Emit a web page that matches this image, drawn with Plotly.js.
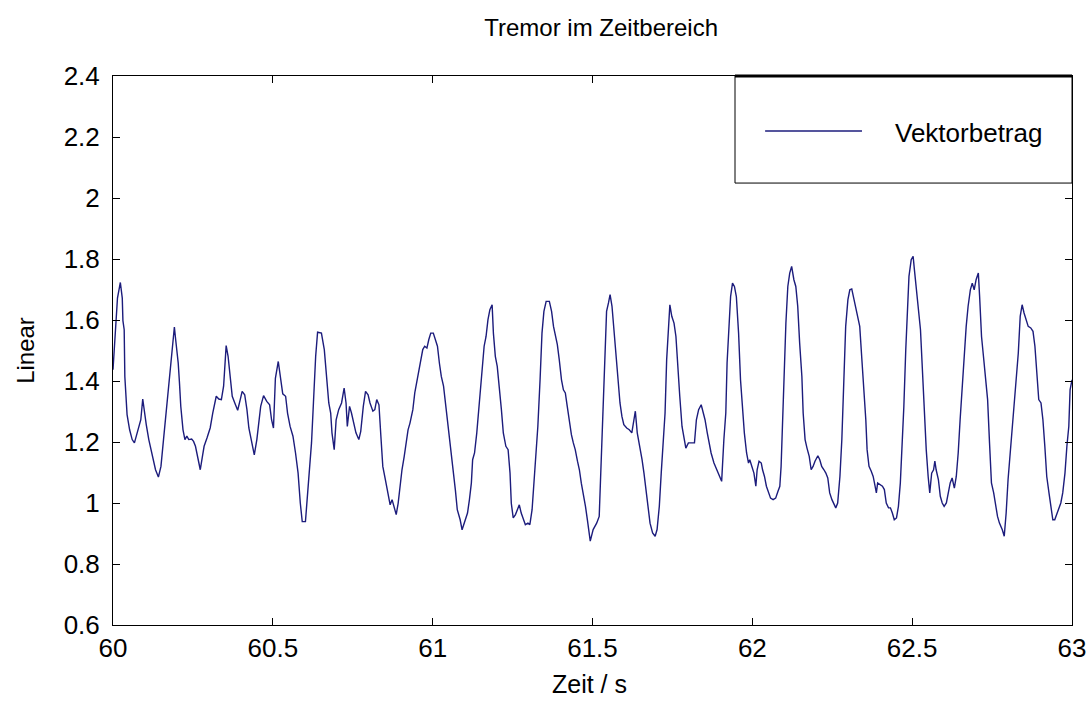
<!DOCTYPE html>
<html>
<head>
<meta charset="utf-8">
<script src="https://cdn.plot.ly/plotly-3.0.1.min.js"></script>
<style>
  html, body { margin: 0; padding: 0; background: #ffffff; overflow: hidden; }
  #chart { width: 1090px; height: 702px; }
</style>
</head>
<body>
<div id="chart"></div>
<script>
// Zeitachse in Sekunden
const zeit = [
  60.000, 60.006, 60.010, 60.014, 60.023, 60.029, 60.031, 60.035, 60.037, 60.044,
  60.052, 60.060, 60.067, 60.073, 60.081, 60.087, 60.093, 60.098, 60.104, 60.112,
  60.119, 60.125, 60.133, 60.142, 60.150, 60.158, 60.167, 60.175, 60.181, 60.187,
  60.192, 60.196, 60.204, 60.208, 60.212, 60.219, 60.225, 60.231, 60.237, 60.246,
  60.252, 60.258, 60.264, 60.273, 60.279, 60.285, 60.294, 60.304, 60.312, 60.323,
  60.331, 60.339, 60.346, 60.350, 60.354, 60.360, 60.367, 60.373, 60.381, 60.390,
  60.398, 60.404, 60.412, 60.419, 60.425, 60.433, 60.442, 60.450, 60.456, 60.462,
  60.471, 60.481, 60.490, 60.496,
  60.502, 60.508, 60.517, 60.523, 60.531, 60.540, 60.546, 60.554, 60.563, 60.571,
  60.579, 60.586, 60.592, 60.602, 60.608, 60.615, 60.621, 60.627, 60.634, 60.640,
  60.652, 60.661, 60.667, 60.675, 60.681, 60.685, 60.692, 60.698, 60.706, 60.715,
  60.723, 60.729, 60.733, 60.740, 60.746, 60.752, 60.760, 60.769, 60.775, 60.783,
  60.790, 60.798, 60.804, 60.813, 60.819, 60.825, 60.832, 60.838, 60.844, 60.852,
  60.861, 60.867, 60.873, 60.879, 60.886, 60.892, 60.898, 60.904, 60.911, 60.917,
  60.923, 60.929, 60.938, 60.944, 60.950, 60.957, 60.963, 60.969, 60.975, 60.982,
  60.988, 60.994,
  61.002, 61.009, 61.015, 61.021, 61.027, 61.034, 61.040, 61.046, 61.052, 61.059,
  61.065, 61.071, 61.077, 61.086, 61.092, 61.100, 61.109, 61.115, 61.121, 61.125,
  61.131, 61.138, 61.144, 61.148, 61.154, 61.161, 61.167, 61.173, 61.179, 61.186,
  61.190, 61.196, 61.202, 61.209, 61.215, 61.221, 61.229, 61.236, 61.242, 61.246,
  61.252, 61.259, 61.265, 61.271, 61.277, 61.284, 61.290, 61.298, 61.304, 61.311,
  61.317, 61.323, 61.329, 61.336, 61.342, 61.348, 61.355, 61.365, 61.372, 61.378,
  61.384, 61.390, 61.396, 61.403, 61.409, 61.415, 61.421, 61.428, 61.434, 61.440,
  61.446, 61.453, 61.459, 61.465, 61.471, 61.478, 61.484, 61.490, 61.493,
  61.502, 61.513, 61.521, 61.525, 61.532, 61.538, 61.544, 61.550, 61.555, 61.561,
  61.567, 61.573, 61.580, 61.586, 61.592, 61.598, 61.607, 61.615, 61.623, 61.630,
  61.634, 61.640, 61.648, 61.655, 61.661, 61.667, 61.673, 61.680, 61.688, 61.696,
  61.702, 61.709, 61.715, 61.721, 61.727, 61.732, 61.738, 61.742, 61.748, 61.755,
  61.761, 61.767, 61.773, 61.780, 61.786, 61.792, 61.800, 61.811, 61.819, 61.825,
  61.832, 61.840, 61.846, 61.852, 61.859, 61.865, 61.871, 61.880, 61.888, 61.898,
  61.904, 61.911, 61.917, 61.921, 61.927, 61.932, 61.938, 61.944, 61.950, 61.957,
  61.963, 61.969, 61.975, 61.982, 61.988,
  61.992, 61.998, 62.005, 62.011, 62.015, 62.021, 62.028, 62.032, 62.038, 62.044,
  62.050, 62.057, 62.065, 62.073, 62.080, 62.086, 62.090, 62.094, 62.100, 62.105,
  62.111, 62.117, 62.123, 62.130, 62.136, 62.142, 62.148, 62.155, 62.159, 62.165,
  62.171, 62.178, 62.184, 62.190, 62.196, 62.205, 62.211, 62.217, 62.224, 62.230,
  62.236, 62.242, 62.249, 62.255, 62.261, 62.267, 62.274, 62.280, 62.286, 62.292,
  62.299, 62.305, 62.311, 62.317, 62.324, 62.330, 62.336, 62.342, 62.349, 62.355,
  62.359, 62.365, 62.372, 62.378, 62.384, 62.388, 62.392, 62.399, 62.407, 62.413,
  62.419, 62.426, 62.432, 62.438, 62.444, 62.451, 62.457, 62.463, 62.469, 62.474,
  62.480, 62.486, 62.490, 62.497,
  62.503, 62.507, 62.513, 62.519, 62.526, 62.532, 62.538, 62.544, 62.550, 62.555,
  62.561, 62.567, 62.571, 62.575, 62.582, 62.588, 62.594, 62.600, 62.607, 62.613,
  62.619, 62.625, 62.632, 62.638, 62.644, 62.650, 62.657, 62.663, 62.669, 62.675,
  62.682, 62.688, 62.694, 62.700, 62.707, 62.711, 62.717, 62.723, 62.730, 62.736,
  62.742, 62.748, 62.755, 62.761, 62.767, 62.773, 62.782, 62.788, 62.794, 62.800,
  62.807, 62.813, 62.819, 62.825, 62.832, 62.838, 62.844, 62.850, 62.857, 62.863,
  62.871, 62.878, 62.884, 62.890, 62.896, 62.903, 62.909, 62.915, 62.921, 62.928,
  62.934, 62.940, 62.946, 62.953, 62.959, 62.965, 62.971, 62.978, 62.984, 62.990,
  62.994, 63.000
];

// Betrag des Beschleunigungsvektors
const vektorbetrag = [
  1.437, 1.525, 1.596, 1.672, 1.723, 1.672, 1.598, 1.568, 1.415, 1.290,
  1.240, 1.208, 1.197, 1.219, 1.246, 1.273, 1.341, 1.295, 1.257, 1.208,
  1.175, 1.142, 1.109, 1.085, 1.120, 1.208, 1.306, 1.404, 1.481, 1.546,
  1.577, 1.536, 1.459, 1.393, 1.317, 1.240, 1.208, 1.219, 1.208, 1.210,
  1.202, 1.186, 1.153, 1.109, 1.148, 1.186, 1.213, 1.246, 1.295, 1.350,
  1.341, 1.339, 1.383, 1.470, 1.516, 1.481, 1.415, 1.350, 1.328, 1.304,
  1.339, 1.366, 1.355, 1.306, 1.246, 1.208, 1.158, 1.208, 1.262, 1.317,
  1.352, 1.333, 1.322, 1.273,
  1.246, 1.409, 1.464, 1.415, 1.358, 1.350, 1.295, 1.251, 1.219, 1.164,
  1.098, 0.999, 0.939, 0.939, 1.021, 1.098, 1.197, 1.328, 1.481, 1.560,
  1.557, 1.503, 1.426, 1.328, 1.295, 1.230, 1.175, 1.273, 1.306, 1.328,
  1.377, 1.328, 1.251, 1.317, 1.295, 1.262, 1.230, 1.208, 1.235, 1.317,
  1.366, 1.355, 1.328, 1.301, 1.306, 1.339, 1.322, 1.219, 1.120, 1.077,
  1.022, 0.994, 1.011, 0.989, 0.962, 0.999, 1.055, 1.109, 1.153, 1.197,
  1.240, 1.262, 1.306, 1.361, 1.393, 1.426, 1.470, 1.503, 1.514, 1.508,
  1.536, 1.557,
  1.557, 1.536, 1.514, 1.459, 1.415, 1.383, 1.328, 1.273, 1.230, 1.164,
  1.098, 1.043, 0.978, 0.945, 0.912, 0.939, 0.967, 1.011, 1.065, 1.142,
  1.164, 1.230, 1.306, 1.371, 1.437, 1.514, 1.546, 1.601, 1.634, 1.650,
  1.557, 1.481, 1.448, 1.383, 1.306, 1.230, 1.186, 1.175, 1.098, 0.999,
  0.951, 0.962, 0.978, 0.994, 0.967, 0.945, 0.929, 0.934, 0.929, 0.978,
  1.065, 1.164, 1.251, 1.404, 1.557, 1.628, 1.661, 1.661, 1.628, 1.579,
  1.546, 1.519, 1.470, 1.404, 1.371, 1.361, 1.317, 1.262, 1.224, 1.197,
  1.175, 1.137, 1.109, 1.065, 1.033, 0.989, 0.945, 0.902, 0.875,
  0.913, 0.934, 0.956, 1.077, 1.262, 1.481, 1.628, 1.656, 1.683, 1.645,
  1.574, 1.481, 1.393, 1.328, 1.284, 1.257, 1.246, 1.240, 1.230, 1.284,
  1.301, 1.230, 1.186, 1.142, 1.098, 1.043, 0.989, 0.934, 0.902, 0.891,
  0.913, 0.989, 1.098, 1.208, 1.295, 1.470, 1.601, 1.650, 1.612, 1.590,
  1.546, 1.437, 1.350, 1.251, 1.208, 1.180, 1.197, 1.197, 1.197, 1.273,
  1.306, 1.322, 1.295, 1.273, 1.230, 1.197, 1.164, 1.131, 1.109, 1.087,
  1.071, 1.208, 1.295, 1.459, 1.579, 1.677, 1.721, 1.710, 1.677, 1.557,
  1.404, 1.306, 1.230, 1.164, 1.131,
  1.142, 1.120, 1.098, 1.055, 1.109, 1.137, 1.131, 1.109, 1.087, 1.055,
  1.033, 1.016, 1.011, 1.016, 1.038, 1.055, 1.120, 1.262, 1.404, 1.590,
  1.710, 1.754, 1.776, 1.732, 1.710, 1.645, 1.525, 1.415, 1.295, 1.208,
  1.180, 1.153, 1.109, 1.120, 1.137, 1.155, 1.142, 1.120, 1.109, 1.098,
  1.082, 1.033, 1.011, 0.994, 0.984, 1.000, 1.087, 1.208, 1.404, 1.579,
  1.667, 1.699, 1.702, 1.672, 1.645, 1.612, 1.579, 1.481, 1.371, 1.273,
  1.175, 1.120, 1.104, 1.087, 1.055, 1.033, 1.066, 1.060, 1.055, 1.044,
  1.000, 0.984, 0.984, 0.967, 0.945, 0.951, 0.989, 1.066, 1.186, 1.317,
  1.503, 1.645, 1.743, 1.798,
  1.809, 1.765, 1.699, 1.645, 1.568, 1.437, 1.295, 1.175, 1.087, 1.033,
  1.098, 1.109, 1.137, 1.109, 1.077, 1.022, 1.000, 0.989, 1.000, 1.033,
  1.066, 1.082, 1.049, 1.087, 1.164, 1.273, 1.393, 1.503, 1.579, 1.645,
  1.699, 1.721, 1.699, 1.732, 1.754, 1.677, 1.546, 1.481, 1.404, 1.339,
  1.197, 1.066, 1.033, 0.989, 0.956, 0.934, 0.912, 0.891, 0.967, 1.077,
  1.164, 1.251, 1.317, 1.393, 1.492, 1.612, 1.650, 1.623, 1.601, 1.579,
  1.574, 1.563, 1.514, 1.426, 1.339, 1.328, 1.273, 1.186, 1.087, 1.033,
  0.989, 0.945, 0.945, 0.967, 0.978, 1.000, 1.033, 1.098, 1.186, 1.251,
  1.371, 1.404
];

const seriesName = 'Vektorbetrag';
const chartTitle = 'Tremor im Zeitbereich';
const xTitle = 'Zeit / s';
const yTitle = 'Linear';
const xTicks = [60, 60.5, 61, 61.5, 62, 62.5, 63];
const xTickText = ['60', '60.5', '61', '61.5', '62', '62.5', '63'];
const yTicks = [0.6, 0.8, 1, 1.2, 1.4, 1.6, 1.8, 2, 2.2, 2.4];
const yTickText = ['0.6', '0.8', '1', '1.2', '1.4', '1.6', '1.8', '2', '2.2', '2.4'];

const lineColor = '#1c1c7c';
const sans = '"Liberation Sans", Arial, sans-serif';

const trace = {
  x: zeit,
  y: vektorbetrag,
  type: 'scatter',
  mode: 'lines',
  name: seriesName,
  showlegend: false,
  line: { color: lineColor, width: 1.4 }
};

// legend box (top right, inside the axes)
const lgX0 = 0.6486, lgY0 = 0.805;
const shapes = [
  { type: 'rect', xref: 'paper', yref: 'paper', x0: lgX0, x1: 1, y0: lgY0, y1: 1,
    line: { color: '#000', width: 1 }, fillcolor: '#fff', layer: 'above' },
  { type: 'line', xref: 'paper', yref: 'paper', x0: lgX0, x1: 1, y0: 1, y1: 1,
    line: { color: '#000', width: 3 }, layer: 'above' },
  { type: 'line', xref: 'paper', yref: 'paper', x0: 0.680, x1: 0.781, y0: 0.8998, y1: 0.8998,
    line: { color: lineColor, width: 1.4 }, layer: 'above' }
];

const annotations = [
  { xref: 'paper', yref: 'paper', x: 0.8135, y: 0.8960, xanchor: 'left', yanchor: 'middle',
    text: seriesName, showarrow: false, font: { family: sans, size: 26, color: '#000' } },
  // x-axis title, placed low at the bottom edge of the figure
  { xref: 'paper', yref: 'paper', x: 0.497, y: -0.1375, xanchor: 'center', yanchor: 'bottom',
    text: xTitle, showarrow: false, font: { family: sans, size: 25, color: '#000' } }
];

const axisCommon = {
  showgrid: false,
  zeroline: false,
  showline: true,
  linecolor: '#000',
  linewidth: 1,
  mirror: 'ticks',
  ticks: 'inside',
  ticklen: 7,
  tickwidth: 1,
  tickcolor: '#000',
  tickmode: 'array',
  tickfont: { family: sans, size: 26, color: '#000' }
};

const layout = {
  width: 1090,
  height: 702,
  paper_bgcolor: '#ffffff',
  plot_bgcolor: '#ffffff',
  margin: { l: 113, r: 18, t: 76, b: 77 },
  showlegend: false,
  title: {
    text: chartTitle,
    font: { family: sans, size: 24, color: '#000' },
    xref: 'paper', x: 0.509, xanchor: 'center',
    yref: 'container', y: 0.961, yanchor: 'middle'
  },
  xaxis: Object.assign({}, axisCommon, {
    range: [60, 63],
    tickvals: xTicks,
    ticktext: xTickText,
    ticklabelstandoff: 0
  }),
  yaxis: Object.assign({}, axisCommon, {
    range: [0.6, 2.4],
    tickvals: yTicks,
    ticktext: yTickText,
    ticklabelstandoff: 7,
    title: { text: yTitle, font: { family: sans, size: 24, color: '#000' }, standoff: 22 }
  }),
  shapes: shapes,
  annotations: annotations
};

Plotly.newPlot('chart', [trace], layout, { staticPlot: true, displayModeBar: false });
</script>
</body>
</html>
